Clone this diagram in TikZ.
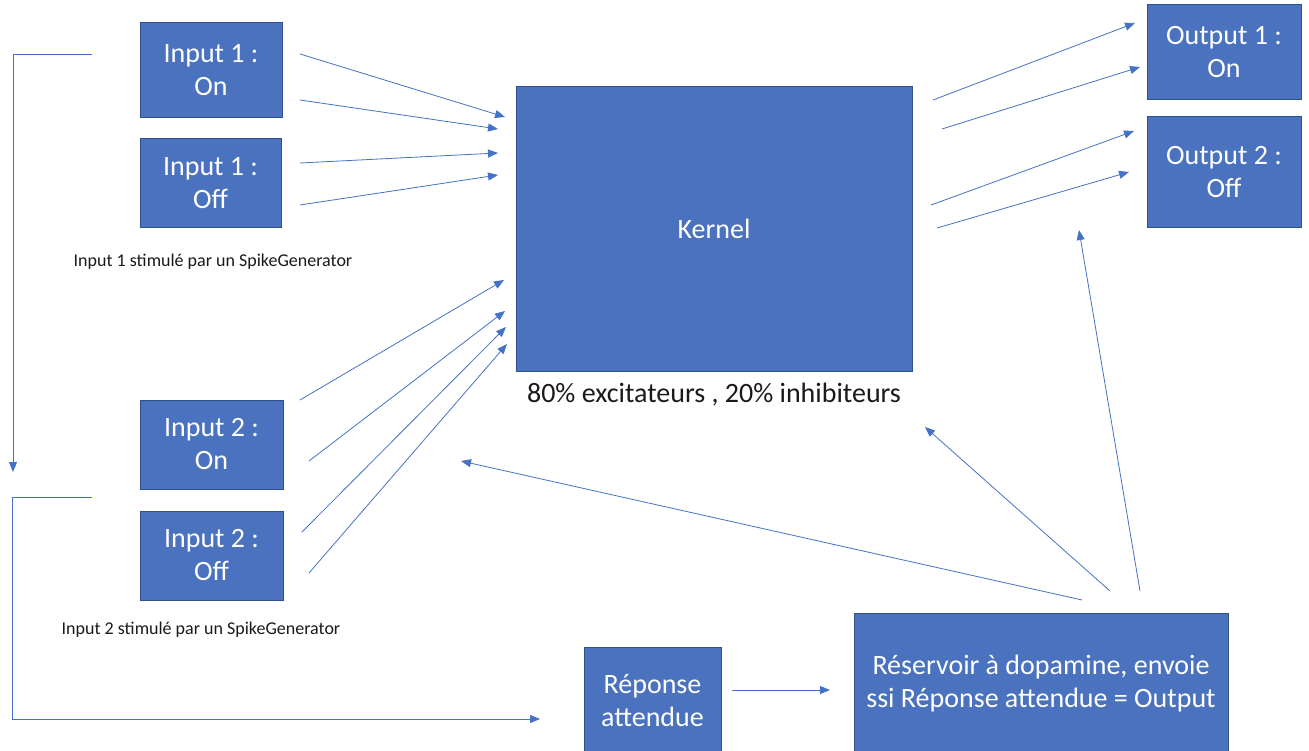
\documentclass[tikz,border=0pt]{standalone}
\usepackage{fontspec}
\setmainfont{Carlito}
\usetikzlibrary{arrows.meta}
\definecolor{boxfill}{HTML}{4A72BE}
\definecolor{boxdraw}{HTML}{2F528F}
\definecolor{linecol}{HTML}{4472C4}
\definecolor{txt}{HTML}{1A1A1A}
\tikzset{
  box/.style={draw=boxdraw, fill=boxfill, line width=1pt, text=white, align=center, inner sep=0pt,
    font=\fontsize{28}{33}\selectfont},
  conn/.style={draw=linecol, line width=0.8pt, -{Triangle[length=10pt,width=8pt]}},
  lbl/.style={text=txt, inner sep=0pt}
}
\begin{document}
\begin{tikzpicture}[x=1pt,y=-1pt]
\clip (0,0) rectangle (1309,751);
\fill[white] (0,0) rectangle (1309,751);
% boxes
\node[box, minimum width=142, minimum height=95] (in1on) at (211,70.5) {Input 1 :\\On};
\node[box, minimum width=141, minimum height=89] (in1off) at (210.5,183.5) {Input 1 :\\Off};
\node[box, minimum width=143, minimum height=89] (in2on) at (211.5,444.5) {Input 2 :\\On};
\node[box, minimum width=143, minimum height=89] (in2off) at (211.5,555.5) {Input 2 :\\Off};
\node[box, minimum width=396, minimum height=284] (kernel) at (714,229) {Kernel};
\node[box, minimum width=154, minimum height=95] (out1) at (1224,52.5) {Output 1 :\\On};
\node[box, minimum width=154, minimum height=111] (out2) at (1224,172.5) {Output 2 :\\Off};
\node[box, minimum width=137, minimum height=108] (rep) at (652.5,701) {Réponse\\attendue};
\node[box, minimum width=374, minimum height=142] (res) at (1041,684) {Réservoir à dopamine, envoie\\ssi Réponse attendue = Output};
% labels
\node[lbl, font=\fontsize{18}{22}\selectfont] (lab1) at (213,262) {Input 1 stimulé par un SpikeGenerator};
\node[lbl, font=\fontsize{18}{22}\selectfont] (lab2) at (201,630) {Input 2 stimulé par un SpikeGenerator};
\node[lbl, font=\fontsize{28}{32}\selectfont] (labk) at (714,395) {80\% excitateurs , 20\% inhibiteurs};
% coordinates for connector ends
\coordinate (a1s) at (300,54);  \coordinate (a1e) at (505,117);
\coordinate (a2s) at (300,100); \coordinate (a2e) at (498,129);
\coordinate (a3s) at (300,163); \coordinate (a3e) at (498,153);
\coordinate (a4s) at (300,205); \coordinate (a4e) at (498,175);
\coordinate (b1s) at (300,400); \coordinate (b1e) at (504,280);
\coordinate (b2s) at (309,461); \coordinate (b2e) at (505,311);
\coordinate (b3s) at (302,532); \coordinate (b3e) at (506,327);
\coordinate (b4s) at (309,573); \coordinate (b4e) at (507,344);
\coordinate (c1s) at (933,100); \coordinate (c1e) at (1135,23);
\coordinate (c2s) at (942,129); \coordinate (c2e) at (1140,67);
\coordinate (c3s) at (931,205); \coordinate (c3e) at (1134,131);
\coordinate (c4s) at (937,228); \coordinate (c4e) at (1129,172);
\coordinate (d1s) at (1082,600); \coordinate (d1e) at (461,461);
\coordinate (d2s) at (1110,591); \coordinate (d2e) at (925,427);
\coordinate (d3s) at (1140,591); \coordinate (d3e) at (1079,230);
\coordinate (e1s) at (92,54);  \coordinate (e1c) at (13,54);  \coordinate (e1e) at (13,472);
\coordinate (e2s) at (92,497); \coordinate (e2c) at (12,497); \coordinate (e2d) at (12,719); \coordinate (e2e) at (540,719);
\coordinate (f1s) at (732,690); \coordinate (f1e) at (830,690);
% connectors
\foreach \n in {a1,a2,a3,a4,b1,b2,b3,b4,c1,c2,c3,c4,d1,d2,d3,f1}
  \draw[conn] (\n s) -- (\n e);
% brackets
\draw[conn] (e1s) -- (e1c) -- (e1e);
\draw[conn] (e2s) -- (e2c) -- (e2d) -- (e2e);
\end{tikzpicture}
\end{document}
